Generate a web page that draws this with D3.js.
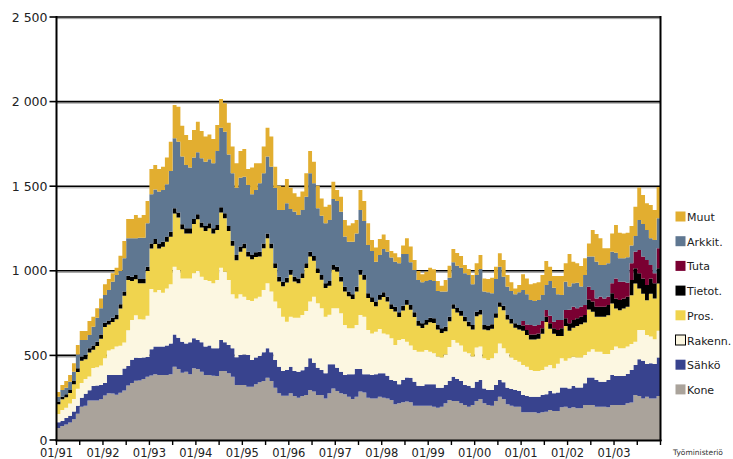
<!DOCTYPE html>
<html>
<head>
<meta charset="utf-8">
<script src="https://cdn.jsdelivr.net/npm/d3@7"></script>
<style>
  body { margin: 0; background: #fff; }
  text { font-family: "DejaVu Sans", sans-serif; }
</style>
</head>
<body>
<svg id="chart" width="733" height="459"></svg>
<script>
// monthly series, 01/91 .. 12/03 (156 months)
const monthCount = 156;
const yearLabels = ["01/91", "01/92", "01/93", "01/94", "01/95", "01/96", "01/97",
  "01/98", "01/99", "01/00", "01/01", "01/02", "01/03"];
const yTicks = [0, 500, 1000, 1500, 2000, 2500];

const kone = [
  71, 83, 91, 103, 123, 155, 197, 202, 233, 233, 234, 241, 263, 276, 275, 268, 279, 292, 322, 337, 350, 352, 360, 374, 381, 388,
  384, 384, 384, 388, 433, 420, 398, 404, 388, 424, 420, 404, 384, 384, 380, 378, 408, 408, 394, 374, 325, 325, 325, 315, 315, 329,
  341, 349, 368, 349, 309, 276, 262, 262, 276, 260, 250, 260, 266, 296, 286, 266, 266, 246, 276, 305, 290, 276, 270, 256, 242, 255,
  286, 280, 250, 246, 246, 256, 250, 246, 236, 211, 217, 223, 227, 223, 203, 203, 203, 203, 203, 197, 191, 197, 217, 236, 230, 230,
  217, 207, 197, 207, 230, 242, 217, 207, 203, 230, 256, 242, 211, 203, 197, 197, 164, 164, 164, 164, 158, 164, 167, 177, 171, 171,
  193, 197, 187, 193, 187, 187, 207, 207, 207, 197, 197, 197, 193, 207, 207, 207, 207, 217, 221, 266, 260, 246, 256, 246, 246, 260
];
const sahko = [
  34, 30, 39, 40, 45, 47, 52, 72, 61, 86, 88, 84, 74, 108, 109, 116, 105, 131, 115, 138, 136, 133, 128, 116, 156, 164,
  168, 168, 174, 183, 191, 185, 183, 167, 189, 177, 171, 173, 168, 174, 162, 164, 183, 169, 167, 168, 164, 177, 181, 187, 158, 158,
  155, 169, 174, 169, 164, 157, 146, 152, 157, 148, 154, 152, 167, 187, 171, 161, 148, 148, 171, 142, 137, 128, 114, 132, 146, 165,
  134, 108, 138, 138, 142, 138, 144, 134, 119, 138, 112, 132, 143, 145, 142, 118, 116, 126, 126, 132, 118, 112, 108, 113, 144, 130,
  132, 118, 124, 102, 115, 113, 88, 89, 93, 95, 99, 99, 98, 98, 99, 93, 102, 96, 92, 92, 98, 102, 103, 113, 105, 109,
  118, 114, 118, 126, 124, 124, 128, 163, 163, 158, 148, 148, 162, 177, 171, 171, 171, 173, 193, 177, 217, 223, 193, 207, 203, 228
];
const rakenn = [
  48, 64, 60, 72, 75, 101, 88, 87, 82, 106, 108, 116, 146, 145, 153, 168, 173, 153, 211, 234, 251, 229, 224, 245, 355, 321,
  335, 319, 338, 349, 400, 400, 374, 384, 378, 384, 408, 388, 394, 382, 384, 404, 427, 418, 385, 320, 348, 359, 341, 325, 348, 350,
  351, 369, 384, 359, 345, 345, 321, 285, 296, 315, 319, 327, 329, 335, 390, 381, 364, 335, 293, 331, 351, 345, 296, 272, 272, 260,
  319, 341, 262, 246, 252, 262, 236, 244, 246, 212, 262, 242, 211, 190, 187, 201, 203, 203, 193, 183, 184, 178, 180, 200, 217, 215,
  209, 197, 191, 184, 201, 197, 178, 177, 187, 187, 216, 201, 203, 186, 177, 173, 177, 173, 158, 152, 152, 148, 163, 153, 148, 170,
  172, 158, 178, 173, 177, 177, 167, 152, 166, 167, 177, 163, 153, 148, 174, 164, 164, 162, 153, 138, 173, 181, 172, 158, 146, 158
];
const pros = [
  59, 64, 62, 63, 86, 99, 131, 116, 141, 108, 126, 158, 185, 153, 161, 162, 220, 276, 298, 231, 213, 212, 214, 264, 240, 285,
  245, 271, 276, 281, 315, 310, 290, 266, 266, 291, 305, 291, 289, 311, 295, 295, 327, 315, 289, 286, 226, 252, 287, 258, 248, 244,
  238, 247, 267, 257, 198, 159, 179, 232, 248, 214, 204, 218, 254, 267, 212, 179, 169, 169, 172, 228, 218, 188, 198, 189, 173, 197,
  238, 218, 189, 185, 150, 173, 215, 195, 173, 199, 136, 169, 218, 212, 195, 153, 140, 149, 174, 180, 160, 146, 138, 153, 184, 178,
  177, 180, 160, 160, 185, 189, 170, 176, 174, 210, 216, 225, 200, 201, 190, 190, 203, 187, 180, 186, 190, 214, 264, 215, 204, 165,
  132, 205, 162, 172, 186, 196, 192, 249, 222, 206, 206, 220, 230, 275, 225, 225, 235, 235, 289, 344, 245, 215, 205, 254, 241, 279
];
const tietot = [
  15, 15, 18, 18, 20, 22, 25, 25, 25, 25, 25, 25, 25, 25, 25, 25, 25, 25, 25, 25, 25, 25, 25, 25, 30, 30,
  30, 30, 30, 30, 30, 30, 30, 30, 30, 30, 30, 30, 30, 30, 30, 30, 30, 30, 30, 30, 30, 30, 28, 28, 28, 28,
  28, 28, 28, 28, 28, 28, 28, 28, 28, 28, 28, 28, 28, 28, 28, 28, 28, 28, 28, 28, 28, 28, 28, 28, 28, 28,
  28, 28, 28, 28, 28, 28, 28, 28, 28, 28, 28, 28, 28, 28, 28, 28, 28, 28, 27, 27, 27, 27, 27, 27, 27, 27,
  27, 27, 27, 27, 27, 27, 27, 27, 27, 27, 27, 27, 27, 27, 27, 27, 30, 30, 30, 30, 32, 32, 32, 32, 32, 35,
  45, 45, 45, 45, 45, 45, 45, 60, 60, 60, 60, 60, 60, 60, 60, 60, 60, 60, 90, 90, 90, 90, 90, 90, 90, 90
];
// Tuta is reported only from 01/01 onwards
const tutaStart = 120;
const tuta = [
  28, 33, 55, 51, 49, 43, 39, 45, 39, 59,
  49, 49, 80, 79, 59, 59, 59, 75, 69, 49, 59, 49, 49, 59, 118, 109, 99, 83, 98, 98, 138, 129, 148, 79, 59, 118
];
const arkkit = [
  29, 40, 39, 49, 55, 82, 98, 89, 79, 112, 142, 154, 164, 180, 213, 236, 197, 197, 221, 227, 217, 245, 245, 257, 290, 293,
  306, 306, 309, 359, 414, 418, 400, 374, 359, 363, 366, 379, 380, 378, 384, 437, 471, 482, 423, 398, 398, 407, 394, 394, 355, 369,
  404, 414, 454, 453, 446, 394, 423, 440, 360, 384, 375, 374, 394, 463, 430, 354, 351, 355, 360, 391, 388, 384, 296, 295, 311, 315,
  354, 319, 285, 274, 236, 236, 256, 266, 276, 266, 290, 306, 273, 252, 250, 243, 242, 231, 223, 221, 201, 217, 207, 230, 248, 250,
  256, 256, 276, 240, 217, 243, 197, 197, 183, 202, 210, 171, 167, 166, 171, 193, 183, 178, 148, 146, 148, 154, 148, 205, 201, 152,
  148, 168, 137, 138, 152, 119, 177, 178, 197, 217, 187, 197, 197, 187, 152, 138, 138, 150, 106, 93, 177, 192, 177, 158, 197, 177
];
const muut = [
  28, 29, 40, 39, 49, 55, 53, 53, 82, 59, 55, 59, 63, 64, 49, 43, 90, 102, 114, 114, 138, 118, 134, 131, 150, 144,
  134, 137, 158, 173, 197, 207, 183, 178, 163, 163, 181, 161, 148, 147, 144, 154, 169, 168, 187, 158, 144, 158, 164, 95, 158, 157,
  118, 158, 171, 178, 125, 144, 138, 144, 126, 109, 108, 109, 138, 132, 128, 134, 102, 98, 90, 102, 66, 89, 98, 95, 109, 80,
  119, 118, 129, 65, 83, 95, 86, 69, 39, 49, 35, 50, 92, 93, 59, 53, 47, 55, 72, 69, 59, 35, 69, 71, 79, 75,
  69, 49, 36, 55, 69, 82, 78, 78, 92, 73, 79, 99, 69, 51, 35, 43, 92, 94, 93, 105, 105, 118, 142, 84, 69, 108,
  112, 108, 192, 128, 114, 121, 99, 78, 157, 163, 158, 99, 89, 108, 164, 151, 147, 145, 115, 173, 193, 172, 158, 197, 177, 185
];

// stack order bottom -> top
const series = [
  { key: "Kone", color: "#aaa39b" },
  { key: "Sähkö", color: "#38438e" },
  { key: "Rakenn.", color: "#fcf7e1" },
  { key: "Pros.", color: "#f0d44e" },
  { key: "Tietot.", color: "#000000" },
  { key: "Tuta", color: "#7a0032" },
  { key: "Arkkit.", color: "#5f7791" },
  { key: "Muut", color: "#e2ae30" }
];

const rows = d3.range(monthCount).map(i => ({
  i,
  "Kone": kone[i],
  "Sähkö": sahko[i],
  "Rakenn.": rakenn[i],
  "Pros.": pros[i],
  "Tietot.": tietot[i],
  "Tuta": i >= tutaStart ? tuta[i - tutaStart] : 0,
  "Arkkit.": arkkit[i],
  "Muut": muut[i]
}));
// closing point so the last month gets its full step width
rows.push({ ...rows[monthCount - 1], i: monthCount });

const svg = d3.select("#chart");
const plot = { left: 56.5, right: 660.5, top: 17, bottom: 440 };

const x = d3.scaleLinear().domain([0, monthCount]).range([plot.left, plot.right]);
const y = d3.scaleLinear().domain([0, 2500]).range([plot.bottom, plot.top]);

const fmt = d3.formatLocale({ decimal: ",", thousands: " ", grouping: [3], currency: ["", ""] }).format(",");

// gridlines (black with a grey shadow line)
const grid = svg.append("g");
yTicks.filter(v => v > 0).forEach(v => {
  grid.append("line")
    .attr("x1", plot.left).attr("x2", plot.right)
    .attr("y1", y(v) + 1.6).attr("y2", y(v) + 1.6)
    .attr("stroke", "#a0a0a0").attr("stroke-width", 1);
  grid.append("line")
    .attr("x1", plot.left).attr("x2", plot.right)
    .attr("y1", y(v)).attr("y2", y(v))
    .attr("stroke", "#000").attr("stroke-width", 1.6);
});

// stacked stepped areas
const stack = d3.stack().keys(series.map(s => s.key));
const layers = stack(rows);
const area = d3.area()
  .x(d => x(d.data.i))
  .y0(d => y(d[0]))
  .y1(d => y(d[1]))
  .curve(d3.curveStepAfter);

svg.append("g")
  .selectAll("path")
  .data(layers)
  .join("path")
  .attr("d", area)
  .attr("fill", (d, k) => series[k].color);

// frame: left axis, right edge, bottom axis
const frame = svg.append("g").attr("stroke", "#000");
frame.append("line").attr("x1", plot.left).attr("x2", plot.left)
  .attr("y1", plot.top - 1).attr("y2", plot.bottom + 1).attr("stroke-width", 2);
frame.append("line").attr("x1", plot.right).attr("x2", plot.right)
  .attr("y1", plot.top - 1).attr("y2", plot.bottom + 1).attr("stroke-width", 2);
frame.append("line").attr("x1", plot.left - 1).attr("x2", plot.right + 1)
  .attr("y1", plot.bottom + 0.5).attr("y2", plot.bottom + 0.5).attr("stroke-width", 2);

// y axis ticks + labels
const yAxis = svg.append("g");
yTicks.forEach(v => {
  yAxis.append("line")
    .attr("x1", plot.left - 7).attr("x2", plot.left)
    .attr("y1", y(v)).attr("y2", y(v))
    .attr("stroke", "#000").attr("stroke-width", 1.6);
  yAxis.append("text")
    .attr("x", plot.left - 9).attr("y", y(v) + 4.5)
    .attr("text-anchor", "end")
    .attr("font-size", 12.5)
    .attr("fill", "#222")
    .text(fmt(v));
});

// x axis: tick every 6 months, label every January
const xAxis = svg.append("g");
d3.range(0, monthCount + 1, 6).forEach(m => {
  xAxis.append("line")
    .attr("x1", x(m)).attr("x2", x(m))
    .attr("y1", plot.bottom).attr("y2", plot.bottom + 5)
    .attr("stroke", "#000").attr("stroke-width", 1.4);
});
yearLabels.forEach((lab, k) => {
  xAxis.append("text")
    .attr("x", x(k * 12)).attr("y", 457)
    .attr("text-anchor", "middle")
    .attr("font-size", 11.5)
    .attr("fill", "#222")
    .text(lab);
});

// legend, top to bottom
const legend = svg.append("g");
series.slice().reverse().forEach((s, k) => {
  const cy = 216 + k * 24.7;
  legend.append("rect")
    .attr("x", 675.5).attr("y", cy - 4.5)
    .attr("width", 10).attr("height", 10)
    .attr("fill", s.color)
    .attr("stroke", s.key === "Rakenn." ? "#000" : "none")
    .attr("stroke-width", 1);
  legend.append("text")
    .attr("x", 687).attr("y", cy + 5)
    .attr("font-size", 11)
    .attr("fill", "#222")
    .text(s.key);
});

svg.append("text")
  .attr("x", 673).attr("y", 455)
  .attr("font-size", 7.5)
  .attr("fill", "#333")
  .text("Työministeriö");
</script>
</body>
</html>
